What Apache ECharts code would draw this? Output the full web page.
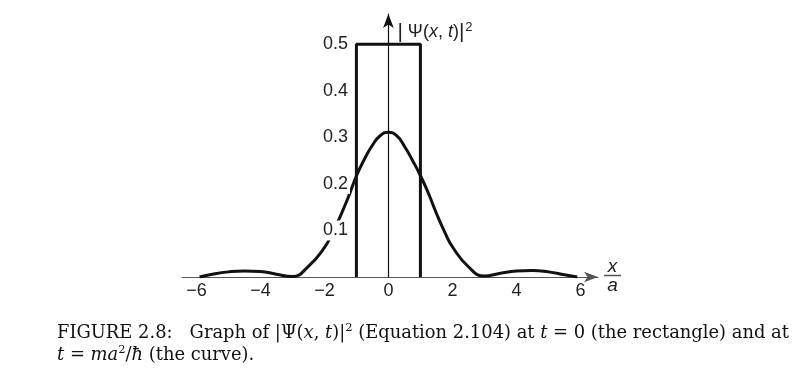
<!DOCTYPE html>
<html>
<head>
<meta charset="utf-8">
<script src="https://cdn.jsdelivr.net/npm/echarts@6/dist/echarts.min.js"></script>
<style>
html,body{margin:0;padding:0;background:#fff;}
#c{width:800px;height:388px;}
</style>
</head>
<body>
<div id="c"></div>
<script>
// x positions (in units of a) of the curve samples
var curveX = [-5.9,-5.5,-5,-4.5,-4,-3.5,-3,-2.5,-2,-1.75,-1.5,-1.25,-1,-0.75,-0.5,-0.25,0,0.25,0.5,0.75,1,1.25,1.5,1.75,2,2.5,3,3.5,4,4.5,5,5.5,5.9];
// |Psi(x,t)|^2 at t = m a^2 / hbar (the curve)
var curveY = [0.000,0.006,0.011,0.013,0.012,0.006,0.001,0.023,0.063,0.095,0.131,0.172,0.217,0.253,0.283,0.304,0.311,0.304,0.281,0.251,0.218,0.180,0.137,0.098,0.065,0.022,0.002,0.008,0.013,0.014,0.011,0.005,0.000];
// |Psi(x,0)|^2 (the rectangle)
var rectX = [-1,-1,1,1];
var rectY = [0,0.5,0.5,0];
// tick labels
var xTicks = [-6,-4,-2,0,2,4,6];
var yTicks = [0.1,0.2,0.3,0.4,0.5];

function pairs(xs, ys){ return xs.map(function(v,i){ return [v, ys[i]]; }); }

var chart = echarts.init(document.getElementById('c'), null, {renderer:'canvas'});
var sans = 'Liberation Sans';
var serif = 'DejaVu Serif';
var capSize = 17.9;
chart.setOption({
  animation:false,
  backgroundColor:'#fff',
  grid:{left:182, right:202, top:14, bottom:111, containLabel:false},
  title:{
    left:52, top:317,
    text:'{r|FIGURE 2.8:   Graph of |Ψ(}{i|x}{r|, }{i|t}{r|)|}{s|2}{r| (Equation 2.104) at }{i|t}{r| = 0 (the rectangle) and at}\n{i|t}{r| = }{i|ma}{s|2}{r|/}{i|ħ}{r| (the curve).}',
    textStyle:{
      fontWeight:'normal',
      rich:{
        r:{fontFamily:serif, fontWeight:'normal', fontSize:capSize, color:'#111', lineHeight:22},
        i:{fontFamily:serif, fontWeight:'normal', fontStyle:'italic', fontSize:capSize, color:'#111', lineHeight:22},
        s:{fontFamily:serif, fontWeight:'normal', fontSize:11.5, color:'#111', verticalAlign:'top', lineHeight:22, padding:[0,0,8,0]}
      }
    }
  },
  xAxis:{
    type:'value', min:-6.45, max:6.55,
    axisLine:{show:true, onZero:true, lineStyle:{color:'#555', width:1.2}, symbol:['none','arrow'], symbolSize:[8,14]},
    axisTick:{show:false},
    splitLine:{show:false},
    axisLabel:{
      customValues:xTicks,
      fontFamily:sans, fontSize:18, color:'#222', margin:5,
      formatter:function(v){ return v<0 ? '\u2212'+Math.abs(v) : String(v); }
    },
    name:'{n|x}\n{b|}\n{d|a}',
    nameLocation:'end', nameGap:6,
    nameTextStyle:{
      align:'left', verticalAlign:'middle',
      rich:{
        n:{fontFamily:sans, fontStyle:'italic', fontSize:19, color:'#222', align:'center', width:17, lineHeight:14},
        b:{backgroundColor:'#555', width:17, height:1.5, lineHeight:3},
        d:{fontFamily:sans, fontStyle:'italic', fontSize:19, color:'#222', align:'center', width:17, lineHeight:17}
      }
    }
  },
  yAxis:{
    type:'value', min:0, max:0.565,
    z:5,
    axisLine:{show:true, lineStyle:{color:'#111', width:1.2}, symbol:['none','arrow'], symbolSize:[8,14]},
    axisTick:{show:false},
    splitLine:{show:false},
    axisLabel:{
      customValues:yTicks,
      fontFamily:sans, fontSize:18, color:'#222', margin:-168,
      backgroundColor:'#fff', padding:[1,2,1,2],
      formatter:function(v){ return v.toFixed(1); }
    },
    name:'{p||}{r| Ψ(}{i|x}{r|, }{i|t}{r|)}{p||}{s|2}',
    nameLocation:'end', nameGap:-18,
    nameTextStyle:{
      align:'left', verticalAlign:'middle', padding:[0,0,0,9],
      rich:{
        p:{fontFamily:sans, fontSize:21, color:'#222'},
        r:{fontFamily:sans, fontSize:18, color:'#222'},
        i:{fontFamily:sans, fontStyle:'italic', fontSize:18, color:'#222'},
        s:{fontFamily:sans, fontSize:13, color:'#222', padding:[0,0,10,1]}
      }
    }
  },
  series:[
    {type:'line', data:pairs(rectX, rectY), symbol:'none', lineStyle:{color:'#111', width:3}, z:2},
    {type:'line', data:pairs(curveX, curveY), symbol:'none', smooth:0.5, lineStyle:{color:'#111', width:3}, z:3}
  ]
});
</script>
</body>
</html>
